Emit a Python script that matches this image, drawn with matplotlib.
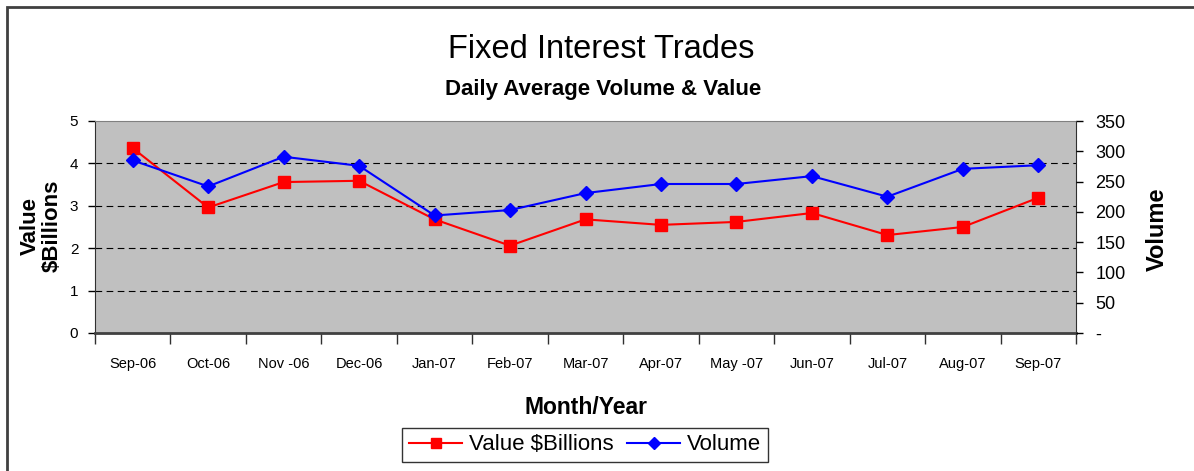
import matplotlib
matplotlib.use("Agg")
from matplotlib import pyplot as plt
from matplotlib.patches import Rectangle
from matplotlib.ticker import FixedLocator

months = ["Sep-06", "Oct-06", "Nov -06", "Dec-06", "Jan-07", "Feb-07", "Mar-07",
          "Apr-07", "May -07", "Jun-07", "Jul-07", "Aug-07", "Sep-07"]
value_bn = [4.36, 2.96, 3.56, 3.59, 2.68, 2.06, 2.68, 2.55, 2.62, 2.83, 2.31, 2.50, 3.19]
volume = [285, 242, 291, 276, 194, 203, 231, 246, 246, 259, 225, 271, 277]
vol_ticks = [0, 50, 100, 150, 200, 250, 300, 350]
vol_labels = ["-", "50", "100", "150", "200", "250", "300", "350"]

plt.rcParams['font.family'] = ['Liberation Sans', 'DejaVu Sans']

fig = plt.figure(figsize=(11.94, 4.71), dpi=100)
W, H = 1194, 471

# outer chart border (only top/left visible in the crop)
fig.patches.append(Rectangle((7 / W, -0.1), 1.2, 1 - 7 / H + 0.1, transform=fig.transFigure,
                             fill=False, edgecolor="#404040", linewidth=2))

ax = fig.add_axes([95 / W, (H - 333) / H, (1076 - 95) / W, (333 - 121) / H])
ax.set_facecolor("#c0c0c0")
x = list(range(len(months)))

ax.plot(x, value_bn, color="#ff0000", marker="s", markersize=8, linewidth=1.5,
        label="Value $Billions", zorder=3)
ax.set_xlim(-0.5, len(months) - 0.5)
ax.set_ylim(0, 5)
ax.set_yticks([0, 1, 2, 3, 4, 5])
ax.yaxis.grid(True, color="black", linestyle=(0, (6, 4)), linewidth=0.8)
for gl, v in zip(ax.get_ygridlines(), [0, 1, 2, 3, 4, 5]):
    if v in (0, 5):
        gl.set_visible(False)

ax.set_xticks(x)
ax.set_xticklabels(months)
ax.xaxis.set_minor_locator(FixedLocator([i - 0.5 for i in range(len(months) + 1)]))
ax.tick_params(axis="x", which="major", length=0, pad=17, labelsize=10.5, colors="black")
ax.tick_params(axis="x", which="minor", length=8, width=1, direction="out", color="#303030")
ax.tick_params(axis="y", length=5, width=1, direction="out", pad=7, labelsize=11)

ax.spines["bottom"].set_linewidth(2)
ax.spines["bottom"].set_color("#404040")
ax.spines["left"].set_color("#303030")
ax.spines["top"].set_color("#808080")
ax.spines["right"].set_color("#303030")

ax2 = ax.twinx()
ax2.plot(x, volume, color="#0000ff", marker="D", markersize=7, linewidth=1.5,
         label="Volume", zorder=4)
ax2.set_ylim(0, 350)
ax2.set_yticks(vol_ticks)
ax2.set_yticklabels(vol_labels)
ax2.tick_params(axis="y", length=5, width=1, direction="out", pad=9, labelsize=13)
for s in ax2.spines.values():
    s.set_visible(False)

fig.text(601 / W, 1 - 49 / H, "Fixed Interest Trades", ha="center", va="center", fontsize=23.5)
fig.text(603 / W, 1 - 89 / H, "Daily Average Volume & Value", ha="center", va="center",
         fontsize=16, fontweight="bold")
fig.text(41 / W, 1 - 226 / H, "Value\n$Billions", ha="center", va="center", rotation=90,
         fontsize=16, fontweight="bold", linespacing=1.05)
fig.text(1157 / W, 1 - 229 / H, "Volume", ha="center", va="center", rotation=90,
         fontsize=17, fontweight="bold")
fig.text(586 / W, 1 - 408 / H, "Month/Year", ha="center", va="center",
         fontsize=16.5, fontweight="bold")

h1, l1 = ax.get_legend_handles_labels()
h2, l2 = ax2.get_legend_handles_labels()
leg = fig.legend(h1 + h2, l1 + l2, loc="center", bbox_to_anchor=(585 / W, 1 - 445 / H),
                 ncol=2, fontsize=16, frameon=True, fancybox=False, handlelength=2.4,
                 columnspacing=0.6, handletextpad=0.3, borderpad=0.3, markerscale=0.9)
leg.get_frame().set_edgecolor("black")
leg.get_frame().set_linewidth(1)

fig.savefig("out.png", dpi=100)
